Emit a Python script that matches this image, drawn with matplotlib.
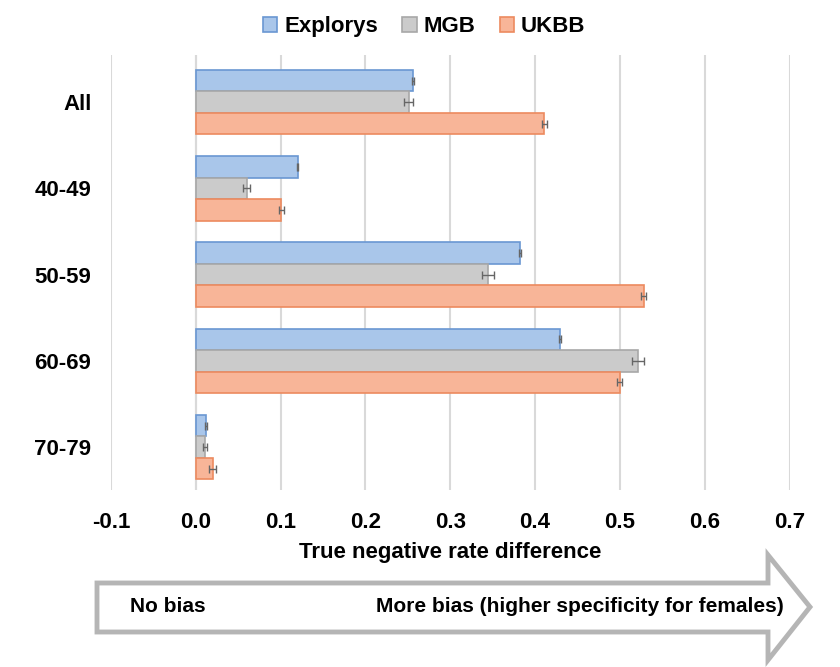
import matplotlib.pyplot as plt
import numpy as np
from matplotlib.patches import Polygon

plt.rcParams['font.family'] = ['Liberation Sans', 'DejaVu Sans']
plt.rcParams['font.weight'] = 'bold'

groups = ['All', '40-49', '50-59', '60-69', '70-79']
series = ['Explorys', 'MGB', 'UKBB']
explorys = [0.256, 0.120, 0.382, 0.429, 0.012]
mgb = [0.251, 0.060, 0.344, 0.521, 0.011]
ukbb = [0.411, 0.101, 0.528, 0.500, 0.020]
explorys_err = [0.001, 0.001, 0.001, 0.001, 0.001]
mgb_err = [0.005, 0.004, 0.007, 0.007, 0.002]
ukbb_err = [0.003, 0.003, 0.003, 0.003, 0.004]
xticks = [-0.1, 0.0, 0.1, 0.2, 0.3, 0.4, 0.5, 0.6, 0.7]

fills = ['#a9c6ea', '#cbcbcb', '#f8b598']
edges = ['#6a97d2', '#a8a8a8', '#ec8a5f']

fig = plt.figure(figsize=(8.4, 6.67), dpi=100)
ax = fig.add_axes([0.132, 0.265, 0.808, 0.653])

y = np.arange(len(groups))
h = 0.25
for i, (vals, errs) in enumerate(zip([explorys, mgb, ukbb], [explorys_err, mgb_err, ukbb_err])):
    ax.barh(y + (i - 1) * h, vals, height=h, color=fills[i], edgecolor=edges[i],
            linewidth=1.2, label=series[i], zorder=3)
    ax.errorbar(vals, y + (i - 1) * h, xerr=errs, fmt='none', ecolor='#666666',
                elinewidth=1, capsize=3, capthick=1, zorder=4)

ax.set_xlim(-0.1, 0.7)
ax.set_ylim(4.5, -0.55)
ax.set_xticks(xticks)
ax.set_xticklabels(['%.1f' % t for t in xticks])
ax.set_yticks(y)
ax.set_yticklabels(groups)
ax.tick_params(axis='both', length=0, labelsize=16)
ax.tick_params(axis='y', pad=14)
ax.tick_params(axis='x', pad=16)
ax.grid(axis='x', color='#d9d9d9', linewidth=1.5, zorder=0)
ax.axvline(0, color='#d9d9d9', linewidth=1.5, zorder=1)
for s in ax.spines.values():
    s.set_visible(False)
ax.set_xlabel('True negative rate difference', fontsize=16, fontweight='bold', labelpad=6)

fig.legend(loc='center', bbox_to_anchor=(0.505, 0.96), ncol=3, frameon=False,
           fontsize=16, handlelength=0.65, handleheight=0.65, handletextpad=0.3,
           columnspacing=1.1)

# arrow below the chart
W, H = 840.0, 667.0
pts = [(97, 583), (768, 583), (768, 555), (810, 607), (768, 660), (768, 632), (97, 632)]
arrow = Polygon([(px / W, 1 - py / H) for px, py in pts], closed=True,
                transform=fig.transFigure, facecolor='white', edgecolor='#b5b5b5',
                linewidth=3.5, joinstyle='miter')
fig.patches.append(arrow)
fig.text(130 / W, 1 - 607 / H, 'No bias', fontsize=15, fontweight='bold', va='center', ha='left')
fig.text(784 / W, 1 - 607 / H, 'More bias (higher specificity for females)', fontsize=15,
         fontweight='bold', va='center', ha='right')

fig.savefig('out.png', dpi=100)
